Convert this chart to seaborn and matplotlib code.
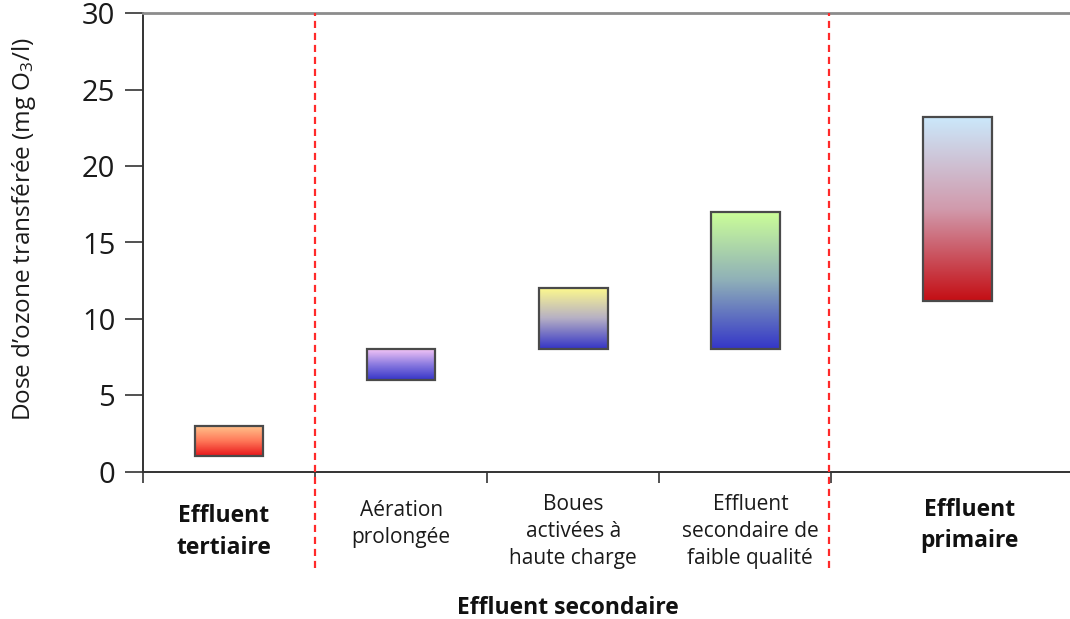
import numpy as np
import pandas as pd
import matplotlib
matplotlib.use("Agg")
import matplotlib.pyplot as plt
from matplotlib.colors import LinearSegmentedColormap
import seaborn as sns

# Ozone dose ranges by effluent type (mg O3/l)
categories = ["Effluent\ntertiaire", "Aération\nprolongée", "Boues\nactivées à\nhaute charge",
              "Effluent\nsecondaire de\nfaible qualité", "Effluent\nprimaire"]
bold_labels = [True, False, False, False, True]
positions = [0.5, 1.5, 2.5, 3.5, 4.735]
dose_low = [1.0, 6.0, 8.0, 8.0, 11.2]
dose_high = [3.0, 8.0, 12.0, 17.0, 23.2]
group_label = "Effluent secondaire"
yticks = [0, 5, 10, 15, 20, 25, 30]
separators = [1.0, 3.99]

# Fill gradients, listed from the bottom of each bar to the top
gradients = [
    ["#e8161a", "#ff7a5a", "#ffc68e"],
    ["#3534c8", "#8a7ae0", "#f3c4f6"],
    ["#3434c6", "#b6b0c4", "#fffb8c"],
    ["#3436c8", "#8fb0b8", "#ccff98"],
    ["#c40e14", "#d19aac", "#cbe8fb"],
]

# Label placement (x offset from bar, top of text in data units)
label_dx = [-0.03, 0.0, 0.0, 0.03, 0.07]
label_top = [-2.14, -1.85, -1.46, -1.46, -1.69]

sns.set_theme(style="white")
plt.rcParams["font.family"] = ["Open Sans", "DejaVu Sans"]
plt.rcParams["mathtext.fontset"] = "custom"
plt.rcParams["mathtext.rm"] = "Open Sans"
plt.rcParams["mathtext.it"] = "Open Sans"

fig = plt.figure(figsize=(10.70, 6.19), dpi=100)
ax = fig.add_axes([143 / 1070, 1 - 471.7 / 619, 1 - 143 / 1070 + 0.01, (471.7 - 13.3) / 619])

df = pd.DataFrame({"pos": positions, "span": np.subtract(dose_high, dose_low)})
sns.barplot(data=df, x="pos", y="span", native_scale=True, width=0.4,
            bottom=dose_low, color="white", edgecolor="#4a4a4a", linewidth=1.6,
            errorbar=None, ax=ax, zorder=3)

# Vertical gradient fill clipped to each bar
for patch, cols in zip(ax.patches, gradients):
    x0, y0 = patch.get_x(), patch.get_y()
    w, h = patch.get_width(), patch.get_height()
    cmap = LinearSegmentedColormap.from_list("g", cols)
    grad = np.linspace(0, 1, 256).reshape(-1, 1)
    im = ax.imshow(grad, cmap=cmap, origin="lower", aspect="auto",
                   extent=[x0, x0 + w, y0, y0 + h], zorder=2.5, interpolation="bilinear")
    im.set_clip_path(patch)
    patch.set_facecolor("none")
    patch.set_zorder(4)

ax.set_xlim(0, 5.45)
ax.set_ylim(0, 30)

for s in separators:
    ax.axvline(s, ymin=-0.21, ymax=1.0, color="#ff2a2a", lw=1.6,
               ls=(0, (3.2, 2.2)), clip_on=False, zorder=5)

ax.set_yticks(yticks)
ax.set_yticklabels([str(t) for t in yticks], fontsize=21, color="#1a1a1a")
ax.set_xticks([0, 1, 2, 3, 4])
ax.set_xticklabels([])
ax.tick_params(axis="y", direction="out", length=13, width=1.2, color="#333333", pad=7, left=True)
ax.tick_params(axis="x", direction="out", length=8, width=1.2, color="#333333", bottom=True)

for side in ["left", "bottom"]:
    ax.spines[side].set_color("#333333")
    ax.spines[side].set_linewidth(1.4)
ax.spines["top"].set_color("#8c8c8c")
ax.spines["top"].set_linewidth(2.0)
ax.spines["right"].set_visible(False)

ax.set_xlabel("")
ax.set_ylabel("Dose d’ozone transférée (mg O$_3$/l)", fontsize=17.5, color="#1a1a1a")
ax.yaxis.set_label_coords(-0.112, 0.529)

for pos, lab, bold, dx, top in zip(positions, categories, bold_labels, label_dx, label_top):
    if bold:
        ax.text(pos + dx, top, lab, ha="center", va="top",
                fontsize=16.5, fontweight="bold", linespacing=1.42, color="#111111")
    else:
        ax.text(pos + dx, top, lab, ha="center", va="top",
                fontsize=15, linespacing=1.38, color="#1a1a1a")

ax.text(2.47, -8.13, group_label, ha="center", va="top", fontsize=16.5,
        fontweight="bold", color="#111111")

fig.savefig("out.png", dpi=100)
